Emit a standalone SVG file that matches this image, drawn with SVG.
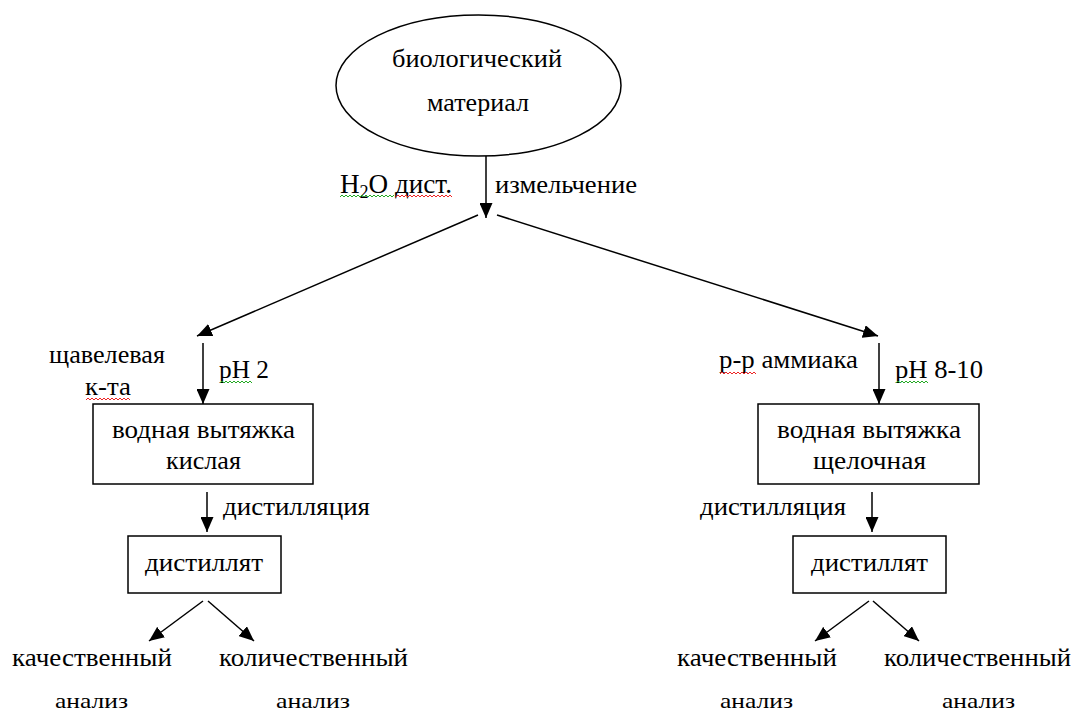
<svg xmlns="http://www.w3.org/2000/svg" width="1077" height="715" viewBox="0 0 1077 715">
<style>
text{font-family:"Liberation Serif","Times New Roman",serif;font-size:26px;fill:#000}
.shape{fill:#fff;stroke:#000;stroke-width:1.5}
.conn line{stroke:#000;stroke-width:1.5;marker-end:url(#arr)}
.sq{fill:none;stroke-width:1}
.low{font-size:22px}
</style>
<defs>
<marker id="arr" markerUnits="userSpaceOnUse" markerWidth="15" markerHeight="13" refX="15" refY="6.5" orient="auto"><path d="M0,0 L15,6.5 L0,13 z" fill="#000"/></marker>
</defs>
<rect width="1077" height="715" fill="#fff"/>
<g id="bio">
<ellipse class="shape" cx="478.5" cy="85.5" rx="142.5" ry="70.5"/>
<text x="392" y="67" textLength="170" lengthAdjust="spacingAndGlyphs">биологический</text>
<text x="427" y="111" textLength="102" lengthAdjust="spacingAndGlyphs">материал</text>
</g>
<g id="labels-top">
<text x="340" y="193" textLength="112" lengthAdjust="spacingAndGlyphs" style="font-size:27px">H<tspan dy="5" style="font-size:18px">2</tspan><tspan dy="-5">O дист.</tspan></text>
<text x="495" y="193" textLength="142" lengthAdjust="spacingAndGlyphs">измельчение</text>
</g>
<g id="acid-reagent">
<text x="49" y="363" textLength="116" lengthAdjust="spacingAndGlyphs">щавелевая</text>
<text x="85" y="395" textLength="46" lengthAdjust="spacingAndGlyphs">к-та</text>
<text x="219" y="378" textLength="50" lengthAdjust="spacingAndGlyphs">pH 2</text>
</g>
<g id="acid-extract">
<rect class="shape" x="93" y="404" width="220" height="80"/>
<text x="112" y="438" textLength="183" lengthAdjust="spacingAndGlyphs">водная вытяжка</text>
<text x="166" y="469" textLength="75" lengthAdjust="spacingAndGlyphs">кислая</text>
</g>
<g id="acid-dist-label">
<text x="223" y="515" textLength="147" lengthAdjust="spacingAndGlyphs">дистилляция</text>
</g>
<g id="acid-distillate">
<rect class="shape" x="128" y="536" width="153" height="57"/>
<text x="145" y="571" textLength="118" lengthAdjust="spacingAndGlyphs">дистиллят</text>
</g>
<g id="acid-qual">
<text x="12" y="666" textLength="160" lengthAdjust="spacingAndGlyphs">качественный</text>
<text class="low" x="55" y="708" textLength="73" lengthAdjust="spacingAndGlyphs">анализ</text>
</g>
<g id="acid-quant">
<text x="219" y="666" textLength="189" lengthAdjust="spacingAndGlyphs">количественный</text>
<text class="low" x="276" y="708" textLength="74" lengthAdjust="spacingAndGlyphs">анализ</text>
</g>
<g id="base-reagent">
<text x="719" y="368" textLength="139" lengthAdjust="spacingAndGlyphs">р-р аммиака</text>
<text x="895" y="378" textLength="88" lengthAdjust="spacingAndGlyphs">pH 8-10</text>
</g>
<g id="base-extract">
<rect class="shape" x="758" y="404" width="221" height="80"/>
<text x="777" y="438" textLength="184" lengthAdjust="spacingAndGlyphs">водная вытяжка</text>
<text x="813" y="469" textLength="113" lengthAdjust="spacingAndGlyphs">щелочная</text>
</g>
<g id="base-dist-label">
<text x="700" y="515" textLength="146" lengthAdjust="spacingAndGlyphs">дистилляция</text>
</g>
<g id="base-distillate">
<rect class="shape" x="793" y="536" width="153" height="57"/>
<text x="811" y="571" textLength="117" lengthAdjust="spacingAndGlyphs">дистиллят</text>
</g>
<g id="base-qual">
<text x="677" y="666" textLength="160" lengthAdjust="spacingAndGlyphs">качественный</text>
<text class="low" x="720" y="708" textLength="73" lengthAdjust="spacingAndGlyphs">анализ</text>
</g>
<g id="base-quant">
<text x="884" y="666" textLength="187" lengthAdjust="spacingAndGlyphs">количественный</text>
<text class="low" x="942" y="708" textLength="73" lengthAdjust="spacingAndGlyphs">анализ</text>
</g>
<g id="spellcheck">
<path class="sq" stroke="#2a2" d="M340,197 l2,-2 l2,2 l2,-2 l2,2 l2,-2 l2,2 l2,-2 l2,2 l2,-2 l2,2 l2,-2 l2,2 l2,-2 l2,2 l2,-2 l2,2 l2,-2 l2,2 l2,-2 l2,2 l2,-2 l2,2 l2,-2 l2,2 l2,-2 l2,2 l2,-2"/>
<path class="sq" stroke="#e22" d="M396,197 l2,-2 l2,2 l2,-2 l2,2 l2,-2 l2,2 l2,-2 l2,2 l2,-2 l2,2 l2,-2 l2,2 l2,-2 l2,2 l2,-2 l2,2 l2,-2 l2,2 l2,-2 l2,2 l2,-2 l2,2 l2,-2 l2,2 l2,-2 l2,2 l2,-2 l2,2"/>
<path class="sq" stroke="#e22" d="M86,400 l2,-2 l2,2 l2,-2 l2,2 l2,-2 l2,2 l2,-2 l2,2 l2,-2 l2,2 l2,-2 l2,2 l2,-2 l2,2 l2,-2 l2,2 l2,-2 l2,2 l2,-2 l2,2 l2,-2 l2,2"/>
<path class="sq" stroke="#2a2" d="M220,383 l2,-2 l2,2 l2,-2 l2,2 l2,-2 l2,2 l2,-2 l2,2 l2,-2 l2,2 l2,-2 l2,2 l2,-2 l2,2 l2,-2 l2,2"/>
<path class="sq" stroke="#2a2" d="M896,383 l2,-2 l2,2 l2,-2 l2,2 l2,-2 l2,2 l2,-2 l2,2 l2,-2 l2,2 l2,-2 l2,2 l2,-2 l2,2 l2,-2 l2,2"/>
<path class="sq" stroke="#e22" d="M720,374 l2,-2 l2,2 l2,-2 l2,2 l2,-2 l2,2 l2,-2 l2,2 l2,-2 l2,2 l2,-2 l2,2 l2,-2 l2,2 l2,-2 l2,2 l2,-2 l2,2"/>
</g>
<g id="connectors" class="conn">
<line x1="486" y1="156" x2="486" y2="218"/>
<line x1="478" y1="215" x2="197" y2="336"/>
<line x1="497" y1="215" x2="878" y2="336"/>
<line x1="203" y1="343" x2="203" y2="404"/>
<line x1="879" y1="343" x2="879" y2="404"/>
<line x1="207" y1="492" x2="207" y2="532"/>
<line x1="872" y1="492" x2="872" y2="532"/>
<line x1="203" y1="601" x2="149" y2="641"/>
<line x1="208" y1="601" x2="254" y2="641"/>
<line x1="869" y1="601" x2="815" y2="641"/>
<line x1="873" y1="601" x2="919" y2="641"/>
</g>
</svg>
